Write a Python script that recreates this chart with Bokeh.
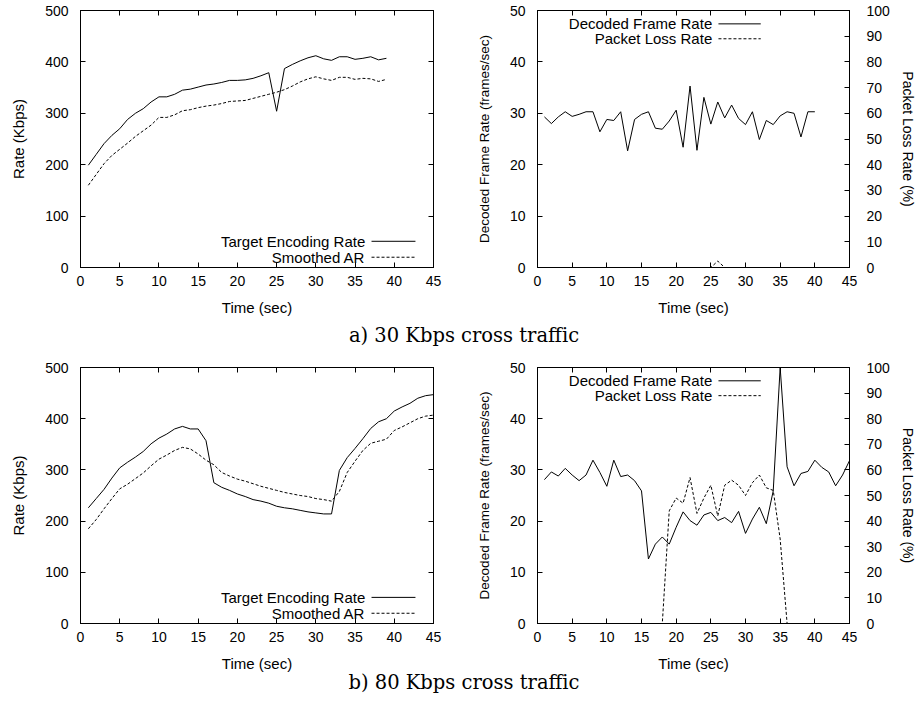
from bokeh.plotting import figure
from bokeh.models import Range1d, LinearAxis, FixedTicker, Label, Arrow, Div
from bokeh.layouts import column, row
from bokeh.embed import file_html
from bokeh.resources import INLINE

# ---------------- data ----------------
x_ticks = [0, 5, 10, 15, 20, 25, 30, 35, 40, 45]
rate_ticks = [0, 100, 200, 300, 400, 500]
fps_ticks = [0, 10, 20, 30, 40, 50]
loss_ticks = [0, 10, 20, 30, 40, 50, 60, 70, 80, 90, 100]

# a) 30 Kbps cross traffic
time_a = list(range(1, 40))
target_a = [199, 220, 241, 257, 270, 288, 300, 309, 322, 332,
            332, 337, 345, 347, 351, 355, 357, 360, 364, 364,
            365, 368, 373, 379, 304, 387, 395, 402, 408, 412,
            406, 403, 410, 410, 405, 407, 410, 404, 407]
smoothed_a = [160, 181, 202, 218, 230, 242, 255, 266, 277, 292,
              292, 297, 305, 307, 311, 314, 316, 319, 323, 324,
              325, 329, 333, 337, 341, 346, 353, 361, 367, 371,
              367, 364, 370, 370, 366, 368, 367, 362, 366]

fps_time_a = list(range(1, 41))
fps_a = [29.3, 28.0, 29.3, 30.3, 29.4, 29.8, 30.3, 30.3, 26.4, 28.8,
         28.6, 30.3, 22.7, 28.8, 29.8, 30.3, 27.1, 26.9, 28.5, 30.6,
         23.4, 35.3, 22.8, 33.1, 27.9, 32.2, 29.1, 31.6, 29.0, 27.8,
         30.3, 24.9, 28.6, 27.8, 29.5, 30.3, 30.0, 25.4, 30.3, 30.3]
loss_a = [0, 0, 0, 0, 0, 0, 0, 0, 0, 0,
          0, 0, 0, 0, 0, 0, 0, 0, 0, 0,
          0, 0, 0, 0, 0, 2.5, 0, 0, 0, 0,
          0, 0, 0, 0, 0, 0, 0, 0, 0, 0]

# b) 80 Kbps cross traffic
time_b = list(range(1, 46))
target_b = [226, 244, 262, 284, 304, 315, 325, 336, 351, 362,
            370, 380, 385, 380, 380, 357, 275, 266, 260, 253,
            248, 242, 239, 235, 229, 226, 224, 221, 218, 216,
            214, 214, 299, 324, 342, 361, 381, 394, 400, 415,
            423, 430, 440, 445, 447]
smoothed_b = [185, 203, 224, 244, 263, 272, 283, 294, 308, 321,
              329, 338, 344, 341, 331, 319, 310, 295, 288, 282,
              278, 273, 268, 264, 260, 256, 253, 250, 248, 244,
              242, 239, 258, 295, 317, 338, 352, 356, 360, 377,
              384, 392, 400, 405, 407]

fps_b = [28.1, 29.6, 28.8, 30.3, 29.0, 27.9, 29.0, 31.9, 29.5, 26.8,
         31.9, 28.7, 29.0, 27.9, 25.9, 12.6, 15.5, 16.9, 15.5, 18.8,
         21.8, 20.1, 19.2, 21.2, 21.7, 20.1, 20.7, 19.7, 21.9, 17.6,
         20.4, 22.7, 19.5, 25.9, 50.0, 30.6, 26.9, 29.3, 29.7, 31.9,
         30.5, 29.6, 26.9, 29.0, 31.8]
loss_b = [0, 0, 0, 0, 0, 0, 0, 0, 0, 0,
          0, 0, 0, 0, 0, 0, 0, 0, 44, 49,
          47, 57, 43, 49, 54, 42, 54, 56, 54, 50,
          55, 58, 53, 52, 33, 0, 0, 0, 0, 0,
          0, 0, 0, 0, 0]

SANS = "Liberation Sans"
TICK_PX = "14px"
LABEL_PX = "15px"
DASH = "3 2"


def style_axis(ax, show_labels=True):
    ax.axis_line_color = "black"
    ax.major_tick_line_color = "black"
    ax.major_tick_in = 5
    ax.major_tick_out = 0
    ax.minor_tick_line_color = None
    ax.major_label_text_font = SANS
    ax.major_label_text_color = "black"
    ax.major_label_text_font_size = TICK_PX
    ax.axis_label_text_font = SANS
    ax.axis_label_text_font_size = LABEL_PX
    ax.axis_label_text_font_style = "normal"
    ax.axis_label_text_color = "black"
    if not show_labels:
        ax.major_label_text_font_size = "0px"
        ax.major_label_text_color = None
        ax.major_label_standoff = 0


def mirror(p, side, ticks, range_name="default"):
    if side in ("above", "below"):
        ax = LinearAxis(ticker=FixedTicker(ticks=ticks))
    else:
        ax = LinearAxis(ticker=FixedTicker(ticks=ticks), y_range_name=range_name)
    style_axis(ax, show_labels=False)
    p.add_layout(ax, side)
    return ax


def base_fig(fw, fh, bl, br, bt, bb, y_end, y_ticks, ylabel):
    p = figure(frame_width=fw, frame_height=fh,
               min_border_left=bl, min_border_right=br,
               min_border_top=bt, min_border_bottom=bb,
               x_range=Range1d(0, 45), y_range=Range1d(0, y_end),
               output_backend="svg", toolbar_location=None,
               x_axis_label="Time (sec)", y_axis_label=ylabel)
    p.grid.visible = False
    p.outline_line_color = "black"
    p.outline_line_width = 1
    p.background_fill_color = "white"
    p.border_fill_color = "white"
    p.xaxis.ticker = FixedTicker(ticks=x_ticks)
    p.yaxis.ticker = FixedTicker(ticks=y_ticks)
    for ax in p.xaxis:
        style_axis(ax)
        ax.major_label_standoff = 8
        ax.axis_label_standoff = 10
    for ax in p.yaxis:
        style_axis(ax)
        ax.major_label_standoff = 12
        ax.axis_label_standoff = 15
    mirror(p, "above", x_ticks)
    return p


def legend_entry(p, x_text, x0, x1, y, text, dash=None):
    p.add_layout(Label(x=x_text, y=y, text=text, text_align="right",
                       text_baseline="middle", text_font=SANS,
                       text_font_size=LABEL_PX, text_color="black"))
    arrow = Arrow(end=None, x_start=x0, y_start=y, x_end=x1, y_end=y,
                  line_color="black", line_width=1)
    if dash:
        arrow.line_dash = dash
    p.add_layout(arrow)


def rate_panel(time, target, smoothed, bt, bb, fh):
    p = base_fig(353, fh, 80, 27, bt, bb, 500, rate_ticks, "Rate (Kbps)")
    mirror(p, "right", rate_ticks)
    p.line(time, target, line_color="black", line_width=1)
    p.line(time, smoothed, line_color="black", line_width=1, line_dash=DASH)
    legend_entry(p, 36.3, 37.1, 42.7, 51, "Target Encoding Rate")
    legend_entry(p, 36.3, 37.1, 42.7, 20, "Smoothed AR", DASH)
    return p


def fps_panel(time, fps, loss, bt, bb, fh):
    p = base_fig(312, fh, 77, 73, bt, bb, 50, fps_ticks,
                 "Decoded Frame Rate (frames/sec)")
    p.yaxis[0].axis_label_text_font_size = "13.5px"
    p.extra_y_ranges = {"loss": Range1d(0, 100)}
    rax = LinearAxis(y_range_name="loss", ticker=FixedTicker(ticks=loss_ticks),
                     axis_label="Packet Loss Rate (%)")
    style_axis(rax)
    rax.axis_label_text_font_size = "14px"
    rax.major_label_standoff = 17
    rax.axis_label_standoff = 7
    p.add_layout(rax, "right")
    p.line(time, fps, line_color="black", line_width=1)
    p.line(time, loss, y_range_name="loss", line_color="black",
           line_width=1, line_dash=DASH)
    legend_entry(p, 25.2, 26.1, 32.2, 47.4, "Decoded Frame Rate")
    legend_entry(p, 25.2, 26.1, 32.2, 44.5, "Packet Loss Rate", DASH)
    return p


def caption(text, h, lh):
    return Div(text=text, width=922, height=h, margin=(0, 0, 0, 0),
               styles={"font-family": "'DejaVu Serif'", "font-size": "19.5px",
                       "line-height": f"{lh}px", "text-align": "center",
                       "width": "922px", "color": "black",
                       "padding-left": "6px"})


tl = rate_panel(time_a, target_a, smoothed_a, 10, 55, 257)
tr = fps_panel(fps_time_a, fps_a, loss_a, 10, 55, 257)
bl = rate_panel(time_b, target_b, smoothed_b, 12, 50, 256)
br = fps_panel(time_b, fps_b, loss_b, 12, 50, 256)

layout = column(
    row(tl, tr, spacing=0),
    caption("a) 30 Kbps cross traffic", 33, 28),
    row(bl, br, spacing=0),
    caption("b) 80 Kbps cross traffic", 31, 18),
    spacing=0,
)

open("out.html", "w").write(file_html(layout, INLINE))
